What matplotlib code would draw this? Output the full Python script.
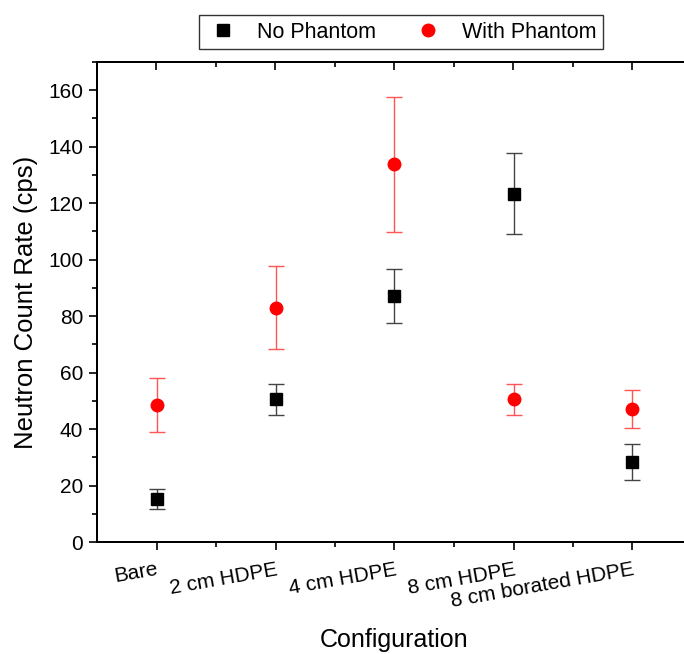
import matplotlib
matplotlib.use("Agg")
import matplotlib.pyplot as plt
from matplotlib.ticker import MultipleLocator, FixedLocator
from matplotlib.lines import Line2D
import numpy as np

plt.rcParams['font.family'] = ['Liberation Sans', 'DejaVu Sans']

categories = ["Bare", "2 cm HDPE", "4 cm HDPE", "8 cm HDPE", "8 cm borated HDPE"]
no_phantom = [15.2, 50.6, 87.0, 123.4, 28.4]
no_phantom_err = [3.4, 5.5, 9.6, 14.3, 6.3]
with_phantom = [48.5, 83.0, 133.7, 50.6, 47.1]
with_phantom_err = [9.5, 14.8, 24.0, 5.5, 6.9]

fig = plt.figure(figsize=(6.84, 6.54), dpi=100)
ax = fig.add_axes([97/684, (654-542)/654, (692-97)/684, (542-62)/654])

x = np.arange(1, len(categories) + 1)

ax.errorbar(x, with_phantom, yerr=with_phantom_err, fmt='o', color='red', ms=9,
            ecolor='#ff5555', elinewidth=1, capsize=6, capthick=1, zorder=3)
ax.errorbar(x, no_phantom, yerr=no_phantom_err, fmt='s', color='black', ms=8,
            ecolor='#444444', elinewidth=1, capsize=6, capthick=1, zorder=4)

ax.set_xlim(0.5, 5.5)
ax.set_ylim(0, 170)
ax.xaxis.set_major_locator(FixedLocator(x))
ax.xaxis.set_minor_locator(FixedLocator(x[:-1] + 0.5))
ax.yaxis.set_major_locator(MultipleLocator(20))
ax.yaxis.set_minor_locator(MultipleLocator(10))

ax.set_xticklabels(categories, rotation=10, ha='right', rotation_mode='anchor', fontsize=15)
ax.tick_params(axis='y', labelsize=15, pad=4)
ax.tick_params(axis='x', pad=7)
ax.tick_params(which='major', direction='out', length=6, width=1.2,
               top=False, right=False)
ax.tick_params(which='minor', direction='out', length=3.5, width=1.2,
               top=False, right=False)
for side in ax.spines:
    ax.spines[side].set_linewidth(1.4)

ax2 = ax.twiny()
ax2.set_xlim(ax.get_xlim())
ax2.xaxis.set_major_locator(FixedLocator(x))
ax2.xaxis.set_minor_locator(FixedLocator(x[:-1] + 0.5))
ax2.tick_params(which='major', direction='in', length=6, width=1.2, labeltop=False)
ax2.tick_params(which='minor', direction='in', length=3.5, width=1.2)
ax3 = ax.twinx()
ax3.set_ylim(ax.get_ylim())
ax3.yaxis.set_major_locator(MultipleLocator(20))
ax3.yaxis.set_minor_locator(MultipleLocator(10))
ax3.tick_params(which='major', direction='in', length=6, width=1.2, labelright=False)
ax3.tick_params(which='minor', direction='in', length=3.5, width=1.2)
for a in (ax2, ax3):
    for s in a.spines.values():
        s.set_linewidth(1.4)

ax.set_xlabel("Configuration", fontsize=18, labelpad=12)
ax.set_ylabel("Neutron Count Rate (cps)", fontsize=18.5, labelpad=7)

handles = [Line2D([], [], marker='s', color='black', linestyle='none', ms=8),
           Line2D([], [], marker='o', color='red', linestyle='none', ms=9)]
labels = ["No Phantom", "With Phantom"]
leg = fig.legend(handles, labels,
                 loc='center', bbox_to_anchor=(401/684, 1 - 32/654), ncol=2,
                 fontsize=15.5, frameon=True, fancybox=False, edgecolor='black',
                 handletextpad=0.8, columnspacing=1.6, borderpad=0.3,
                 handlelength=1.6)
leg.get_frame().set_linewidth(1.0)

fig.savefig("out.png", dpi=100)
